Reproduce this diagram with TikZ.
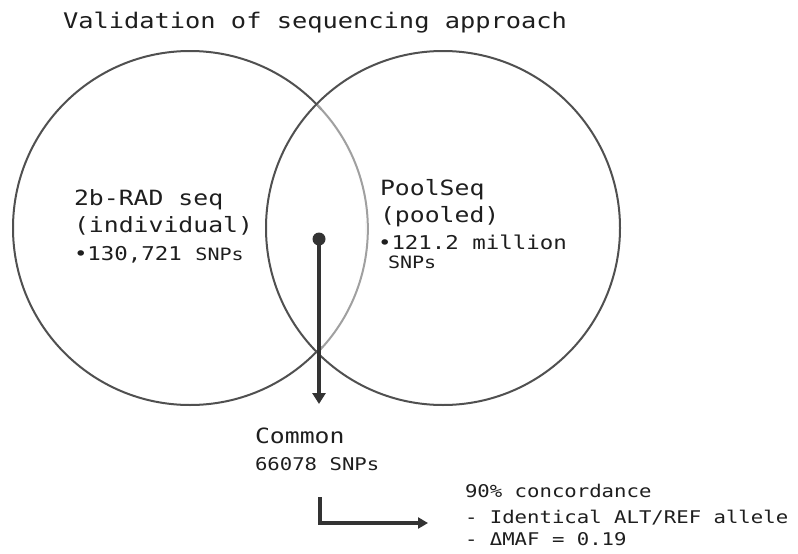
\documentclass[tikz,border=0pt]{standalone}
\usepackage{fontspec}
\setmonofont[FakeStretch=1.18]{DejaVu Sans Mono}
\usetikzlibrary{arrows.meta}
\definecolor{ink}{HTML}{1E1E1E}
\definecolor{ring}{HTML}{505050}
\definecolor{lightring}{HTML}{A0A0A0}
\definecolor{arr}{HTML}{333333}
\newcommand{\fsz}[1]{\fontsize{#1}{#1}\selectfont}
\begin{document}
\begin{tikzpicture}[x=1pt,y=-1pt,
  txt/.style={anchor=base west, inner sep=0pt, outer sep=0pt, text=ink, font=\ttfamily},
  venn/.style={circle, draw=ring, line width=2pt, minimum size=354pt, inner sep=0pt, outer sep=0pt},
  bigarrow/.style={draw=arr, line width=4pt, -{Triangle[width=13pt,length=11pt]}},
  elbowarrow/.style={draw=arr, line width=3.5pt, -{Triangle[width=11pt,length=10pt]}}]
\useasboundingbox (0,0) rectangle (798,554);
\fill[white] (0,0) rectangle (798,554);

% title
\node[txt] (title) at (63,28) {\fsz{21.5}Validation of sequencing approach};

% circles
\node[venn] (L) at (190,228) {};
\node[venn] (R) at (443,228) {};
\draw[white, line width=3.2pt] (L.42) arc[start angle=42, end angle=-42, radius=177pt];
\draw[lightring, line width=2pt] (L.44.4) arc[start angle=44.4, end angle=-44.4, radius=177pt];

% left text
\node[txt] (lA) at (74,205) {\fsz{21}2b-RAD seq};
\node[txt] (lB) at (74,232) {\fsz{21}(individual)};
\node[txt] (lC) at (74,260) {\fsz{19}•130,721 {\fsz{17}SNPs}};

% right text
\node[txt] (rA) at (380,195) {\fsz{21}PoolSeq};
\node[txt] (rB) at (380,222) {\fsz{21}(pooled)};
\node[txt] (rC) at (378,249) {\fsz{19}•121.2 million};
\node[txt] (rD) at (388,268) {\fsz{17}SNPs};

% common
\node[txt] (cA) at (255,443) {\fsz{21}Common};
\node[txt] (cB) at (255,470) {\fsz{17.5}66078 SNPs};

% concordance
\node[txt] (dA) at (465,497) {\fsz{17.5}90\% concordance};
\node[txt] (dB) at (465,523) {\fsz{17.5}- Identical ALT/REF allele};
\node[txt] (dC) at (465,545) {\fsz{17.5}- ΔMAF = 0.19};

% arrows
\node[circle, fill=arr, minimum size=13pt, inner sep=0pt] (dot) at (319,239) {};
\coordinate (tipA) at (319,404);
\draw[bigarrow] (dot.center) -- (tipA);
\coordinate (elbowTop) at (320,497);
\coordinate (tipB) at (428,523);
\draw[elbowarrow] (elbowTop) |- (tipB);
\end{tikzpicture}
\end{document}
